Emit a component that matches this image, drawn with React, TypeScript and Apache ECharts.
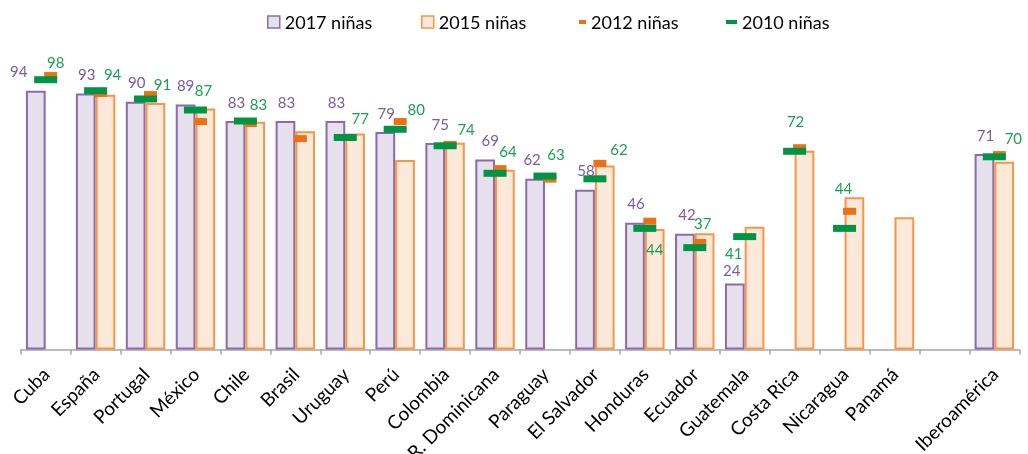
import React, { useEffect, useRef } from 'react';
import * as echarts from 'echarts';

const categories = [
  'Cuba', 'España', 'Portugal', 'México', 'Chile', 'Brasil', 'Uruguay', 'Perú', 'Colombia',
  'R. Dominicana', 'Paraguay', 'El Salvador', 'Honduras', 'Ecuador', 'Guatemala', 'Costa Rica',
  'Nicaragua', 'Panamá', '', 'Iberoamérica',
];

const ninas2017 = [94, 93, 90, 89, 83, 83, 83, 79, 75, 69, 62, 58, 46, 42, 24, null, null, null, null, 71];
const ninas2015 = [null, 92.5, 89.5, 87.5, 82.7, 79.3, 78.5, 68.8, 75.1, 65.3, null, 66.8, 43.8, 42.2, 44.6, 72.2, 55.3, 48, null, 68.2];
const ninas2012 = [99.5, 93, 92.6, 82.8, 82.1, 76.6, null, 82.8, 74.5, 65.7, 61.9, 67.6, 46.6, 38.9, null, 73.3, 50.2, null, null, 70.8];
const ninas2010 = [98, 94, 91, 87, 83, null, 77, 80, 74, 64, 63, 62, 44, 37, 41, 72, 44, null, null, 70];

// label placement tweaks (pixels), kept apart from the values
const purpleLabelOffsets = [
  [-17, 0], [1, 0], [1, 0], [0, 0], [1, 0], [1, 0], [1, 0], [1, 0], [5, 0], [5, 0],
  [-3, 0], [1, 0], [1, 0], [2, 0], [-3, 6], [0, 0], [0, 0], [0, 0], [0, 0], [1, 0],
];
const greenLabelOffsets = [
  [10, -18], [17, -17], [17, -15], [8, -20], [13, -17], [0, 0], [15, -20], [21, -20], [21, -17], [13, -22],
  [11, -22], [24, -30], [10, 21], [8, -25], [-11, 16], [1, -30], [-1, -40], [0, 0], [0, 0], [19, -19],
];

const FONT = 'Lato';
const PURPLE_BORDER = '#8b6bab';
const PURPLE_FILL = '#e6e0ec';
const ORANGE_BORDER = '#f79646';
const ORANGE_FILL = '#fde9d9';
const MARK_2012 = '#ed7014';
const MARK_2010 = '#009444';
const PURPLE_TEXT = '#7b5aa6';
const GREEN_TEXT = '#1aa055';

export default function App() {
  const ref = useRef<HTMLDivElement>(null);

  useEffect(() => {
    const chart = echarts.init(ref.current as HTMLDivElement, null, { renderer: 'svg' });
    const legendBase = {
      top: 13,
      padding: 0,
      selectedMode: false,
      textStyle: { fontFamily: FONT, fontSize: 18, color: '#000' },
    };
    const option = {
      animation: false,
      legend: [
        {
          ...legendBase, left: 267, itemWidth: 12, itemHeight: 12,
          data: [{ name: '2017 niñas', icon: 'rect', itemStyle: { color: PURPLE_FILL, borderColor: PURPLE_BORDER, borderWidth: 1.5 } }],
        },
        {
          ...legendBase, left: 421, itemWidth: 12, itemHeight: 12,
          data: [{ name: '2015 niñas', icon: 'rect', itemStyle: { color: ORANGE_FILL, borderColor: ORANGE_BORDER, borderWidth: 1.5 } }],
        },
        {
          ...legendBase, left: 579, itemWidth: 7, itemHeight: 4,
          data: [{ name: '2012 niñas', icon: 'rect', itemStyle: { color: MARK_2012 } }],
        },
        {
          ...legendBase, left: 726, itemWidth: 11, itemHeight: 4,
          data: [{ name: '2010 niñas', icon: 'rect', itemStyle: { color: MARK_2010 } }],
        },
      ],
      grid: { left: 20.7, right: 8.7, top: 74.2, bottom: 104.5, containLabel: false, outerBoundsMode: 'none' },
      xAxis: {
        type: 'category',
        data: categories,
        axisLine: { lineStyle: { color: '#a6a6a6', width: 1.5 } },
        axisTick: { show: true, length: 5, alignWithLabel: false, interval: 0, lineStyle: { color: '#a6a6a6', width: 1.5 } },
        axisLabel: { rotate: 45, interval: 0, margin: 21, fontFamily: FONT, fontSize: 19, color: '#000' },
      },
      yAxis: { type: 'value', min: 0, max: 100, show: false, splitLine: { show: false } },
      series: [
        {
          name: '2017 niñas',
          type: 'bar',
          barGap: '0%',
          barCategoryGap: '21%',
          silent: true,
          itemStyle: { color: PURPLE_FILL, borderColor: PURPLE_BORDER, borderWidth: 2 },
          label: {
            show: true, position: 'top', distance: 12,
            color: PURPLE_TEXT, fontFamily: FONT, fontSize: 15,
          },
          data: ninas2017.map((v, i) => (v == null ? null : { value: v, label: { offset: purpleLabelOffsets[i] } })),
        },
        {
          name: '2015 niñas',
          type: 'bar',
          barGap: '0%',
          barCategoryGap: '21%',
          silent: true,
          itemStyle: { color: ORANGE_FILL, borderColor: ORANGE_BORDER, borderWidth: 2 },
          data: ninas2015.map((v) => (v == null ? null : v)),
        },
        {
          name: '2012 niñas',
          type: 'scatter',
          symbol: 'rect',
          symbolSize: [13, 7],
          symbolOffset: [5, 0],
          silent: true,
          itemStyle: { color: MARK_2012, opacity: 1 },
          data: ninas2012.map((v) => (v == null ? '-' : v)),
        },
        {
          name: '2010 niñas',
          type: 'scatter',
          symbol: 'rect',
          symbolSize: [23, 7],
          silent: true,
          itemStyle: { color: MARK_2010, opacity: 1 },
          label: {
            show: true, position: 'inside',
            color: GREEN_TEXT, fontFamily: FONT, fontSize: 15,
            formatter: (p: any) => String(p.data && p.data.value != null ? p.data.value : p.value),
          },
          data: ninas2010.map((v, i) => (v == null ? '-' : { value: v, label: { offset: greenLabelOffsets[i] } })),
        },
      ],
    };
    chart.setOption(option as any);
    return () => chart.dispose();
  }, []);

  return <div ref={ref} style={{ position: 'fixed', left: 0, top: 0, width: 1028, height: 454 }} />;
}
